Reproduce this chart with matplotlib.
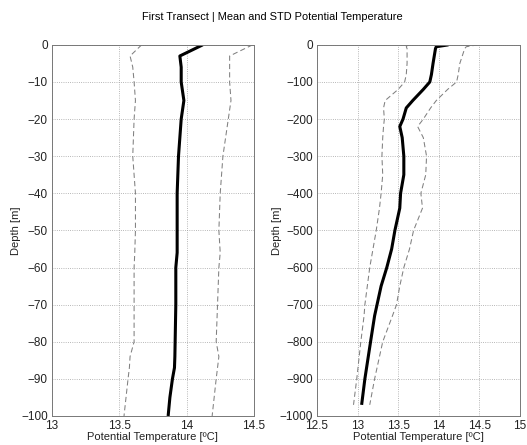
import matplotlib
matplotlib.use("Agg")
import matplotlib.pyplot as plt

plt.rcParams['font.family'] = ['Liberation Sans', 'DejaVu Sans']

title = "First Transect | Mean and STD Potential Temperature"
xlabel = "Potential Temperature [ºC]"
ylabel = "Depth [m]"

# Left panel (upper 100 m)
depth_L = [0, -3, -6, -10, -15, -20, -30, -40, -50, -56, -60, -70, -80, -84, -87, -90, -95, -100]
mean_L = [14.12, 13.95, 13.96, 13.96, 13.98, 13.96, 13.94, 13.93, 13.93, 13.93, 13.92, 13.92, 13.915, 13.913, 13.91, 13.895, 13.876, 13.863]
low_L = [13.666, 13.58, 13.60, 13.61, 13.62, 13.61, 13.60, 13.62, 13.62, 13.615, 13.61, 13.61, 13.61, 13.58, 13.575, 13.565, 13.55, 13.535]
high_L = [14.49, 14.32, 14.32, 14.32, 14.33, 14.31, 14.27, 14.25, 14.24, 14.25, 14.24, 14.23, 14.22, 14.24, 14.23, 14.22, 14.205, 14.19]

# Right panel (full depth)
depth_R = [0, -5, -10, -50, -80, -100, -120, -150, -170, -200, -220, -250, -300, -350, -400, -440, -500, -550, -600, -650, -700, -730, -800, -900, -970]
mean_R = [14.12, 13.97, 13.96, 13.93, 13.91, 13.89, 13.81, 13.68, 13.60, 13.56, 13.52, 13.55, 13.57, 13.57, 13.53, 13.52, 13.46, 13.42, 13.36, 13.29, 13.24, 13.21, 13.16, 13.09, 13.05]
low_R = [13.62, 13.60, 13.61, 13.61, 13.60, 13.58, 13.50, 13.34, 13.32, 13.33, 13.32, 13.31, 13.30, 13.31, 13.29, 13.27, 13.23, 13.19, 13.15, 13.12, 13.09, 13.08, 13.04, 12.99, 12.95]
high_R = [14.48, 14.34, 14.32, 14.26, 14.24, 14.22, 14.11, 13.97, 13.90, 13.81, 13.74, 13.81, 13.85, 13.84, 13.78, 13.80, 13.69, 13.64, 13.57, 13.52, 13.48, 13.43, 13.31, 13.21, 13.15]

xticks_L = [13, 13.5, 14, 14.5]
xticklabels_L = ["13", "13.5", "14", "14.5"]
yticks_L = [0, -10, -20, -30, -40, -50, -60, -70, -80, -90, -100]
xticks_R = [12.5, 13, 13.5, 14, 14.5, 15]
xticklabels_R = ["12.5", "13", "13.5", "14", "14.5", "15"]
yticks_R = [0, -100, -200, -300, -400, -500, -600, -700, -800, -900, -1000]

fig = plt.figure(figsize=(5.27, 4.45), dpi=100)
fig.text(0.516, 0.962, title, ha='center', va='center', fontsize=7.9)

def panel(rect, depth, mean, low, high, xlim, ylim, xt, xtl, yt, ylpad):
    ax = fig.add_axes(rect)
    ax.plot(low, depth, color='#808080', ls=(0, (5, 3)), lw=0.75)
    ax.plot(high, depth, color='#808080', ls=(0, (5, 3)), lw=0.75)
    ax.plot(mean, depth, color='black', lw=2.2, solid_capstyle='butt')
    ax.set_xlim(*xlim)
    ax.set_ylim(*ylim)
    ax.set_xticks(xt)
    ax.set_xticklabels(xtl)
    ax.set_yticks(yt)
    ax.grid(True, ls=':', color='#a0a0a0', lw=0.6)
    ax.tick_params(direction='in', length=0, labelsize=8.5, pad=3, colors='#222222')
    for s in ax.spines.values():
        s.set_color('#777777')
        s.set_linewidth(0.7)
    ax.set_xlabel(xlabel, fontsize=8, labelpad=0, color='#222222')
    ax.set_ylabel(ylabel, fontsize=8, labelpad=ylpad, color='#222222')
    return ax

panel([0.0987, 0.0652, 0.383, 0.834], depth_L, mean_L, low_L, high_L,
      (13, 14.5), (-100, 0), xticks_L, xticklabels_L, yticks_L, 0)
panel([0.6015, 0.0652, 0.385, 0.834], depth_R, mean_R, low_R, high_R,
      (12.5, 15), (-1000, 0), xticks_R, xticklabels_R, yticks_R, -2)

fig.savefig("out.png", dpi=100)
